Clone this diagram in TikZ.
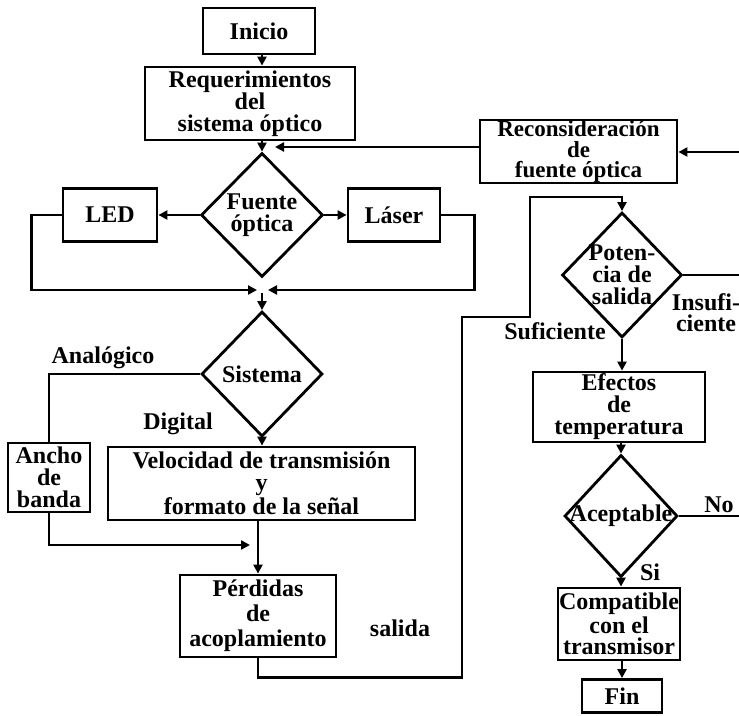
\documentclass[tikz,border=0pt]{standalone}
\usepackage{fontspec}
\setmainfont{Liberation Serif}
\usetikzlibrary{arrows.meta,shapes.geometric}

\begin{document}
\begin{tikzpicture}[
  x=0.5pt,
  y=-0.5pt,
  every node/.style={font=\fontsize{12}{11}\selectfont\bfseries, align=center,
                     inner sep=0pt},
  box/.style={draw, rectangle, line width=1.4pt},
  decision/.style={draw, diamond, aspect=1, line width=1.4pt, inner sep=-4pt},
  link/.style={line width=1.4pt},
  flow/.style={line width=1.4pt, -{Triangle[length=4.5pt, width=4.5pt]}},
  tag/.style={}
]
  % ---- frame of the page -----------------------------------------------
  \useasboundingbox (0,0) rectangle (739,716);

  % ---- left column -----------------------------------------------------
  \node[box, minimum width=56pt, minimum height=23pt] (inicio) at (259,31) {Inicio};
  \node[box, minimum width=105pt, minimum height=36.5pt] (req) at (250,103.5)
    {Requerimientos\\del\\sistema óptico};
  \node[decision, minimum width=61pt, minimum height=62pt] (fuente) at (262,215)
    {Fuente\\óptica};
  \node[box, minimum width=47pt, minimum height=26.5pt] (led) at (110,215) {LED};
  \node[box, minimum width=46pt, minimum height=26.5pt] (laser) at (394,215) {Láser};
  \node[decision, minimum width=60.5pt, minimum height=62.5pt] (sistema) at (262,374)
    {Sistema};
  \node[box, minimum width=41pt, minimum height=34.5pt] (ancho) at (49,477.5)
    {Ancho\\de\\banda};
  \node[box, minimum width=153.5pt, minimum height=36.5pt] (vel) at (261.5,483.5)
    {Velocidad de transmisión\\y\\formato de la señal};
  \node[box, minimum width=78pt, minimum height=41pt,
        font=\fontsize{12}{12.5}\selectfont\bfseries] (perd) at (258,616)
    {Pérdidas\\de\\acoplamiento};

  % ---- right column ----------------------------------------------------
  \node[box, minimum width=98.5pt, minimum height=31.5pt,
        font=\fontsize{11.5}{10.3}\selectfont\bfseries] (recon) at (578.5,151.5)
    {Reconsideración\\de\\fuente óptica};
  \node[decision, minimum width=60pt, minimum height=62.5pt] (potencia) at (622,275)
    {Poten-\\cia de\\salida};
  \node[box, minimum width=86pt, minimum height=35pt,
        font=\fontsize{12}{11}\selectfont\bfseries] (efectos) at (619,407)
    {Efectos\\de\\temperatura};
  \node[decision, minimum width=56.5pt, minimum height=61pt] (acept) at (621,516)
    {Aceptable};
  \node[box, minimum width=61pt, minimum height=36pt,
        font=\fontsize{12}{10.5}\selectfont\bfseries] (compat) at (619,624)
    {Compatible\\con el\\transmisor};
  \node[box, minimum width=40pt, minimum height=16.5pt] (fin) at (622,696) {Fin};

  % ---- branch labels ---------------------------------------------------
  \node[tag] (analog) at (103,358) {Analógico};
  \node[tag] (digital) at (178,424) {Digital};
  \node[tag] (salida) at (400,628) {salida};
  \node[tag] (sufi) at (555,331) {Suficiente};
  \node[tag, font=\fontsize{12}{10.5}\selectfont\bfseries] (insufi) at (706,313)
    {Insufi-\\ciente};
  \node[tag] (no) at (719,505) {No};
  \node[tag] (si) at (650,572) {Si};

  % ---- free ends of the connectors -------------------------------------
  \coordinate (back) at (275,147);
  \coordinate (joinL) at (257,290);
  \coordinate (joinR) at (268,290);
  \coordinate (join) at (262,293);
  \coordinate (mergeV) at (250,545);
  \coordinate (riser) at (462,317);
  \coordinate (bend) at (530,197);
  \coordinate (outP) at (739,275);
  \coordinate (outN) at (739,516);
  \coordinate (inR) at (739,152);

  % ---- connectors, left column -----------------------------------------
  \draw[flow] (inicio.south -| fuente) -- (req.north -| fuente);
  \draw[flow] (req.south -| fuente) -- (fuente.north);
  \draw[flow] (recon.west |- back) -- (back);
  \draw[flow] (fuente.west) -- (led.east);
  \draw[flow] (fuente.east) -- (laser.west);
  \draw[flow] (led.west) -- ++(-30,0) |- (joinL);
  \draw[flow] (laser.east) -- ++(33,0) |- (joinR);
  \draw[flow] (join) -- (sistema.north);
  \draw[link] (sistema.west) -| (ancho.north);
  \draw[flow] (sistema.south) -- (sistema.south |- vel.north);
  \draw[flow] (ancho.south) |- (mergeV);
  \draw[flow] (vel.south -| perd) -- (perd.north);
  \draw[flow] (perd.south) -- ++(0,19) -| (riser) -| (bend) -| (potencia.north);

  % ---- connectors, right column ----------------------------------------
  \draw[flow] (inR) -- (recon.east |- inR);
  \draw[link] (potencia.east) -- (outP);
  \draw[flow] (potencia.south) -- (efectos.north -| potencia);
  \draw[flow] (efectos.south -| acept) -- (acept.north);
  \draw[link] (acept.east) -- (outN);
  \draw[flow] (acept.south) -- (compat.north -| acept);
  \draw[flow] (compat.south -| fin) -- (fin.north);

\end{tikzpicture}
\end{document}
